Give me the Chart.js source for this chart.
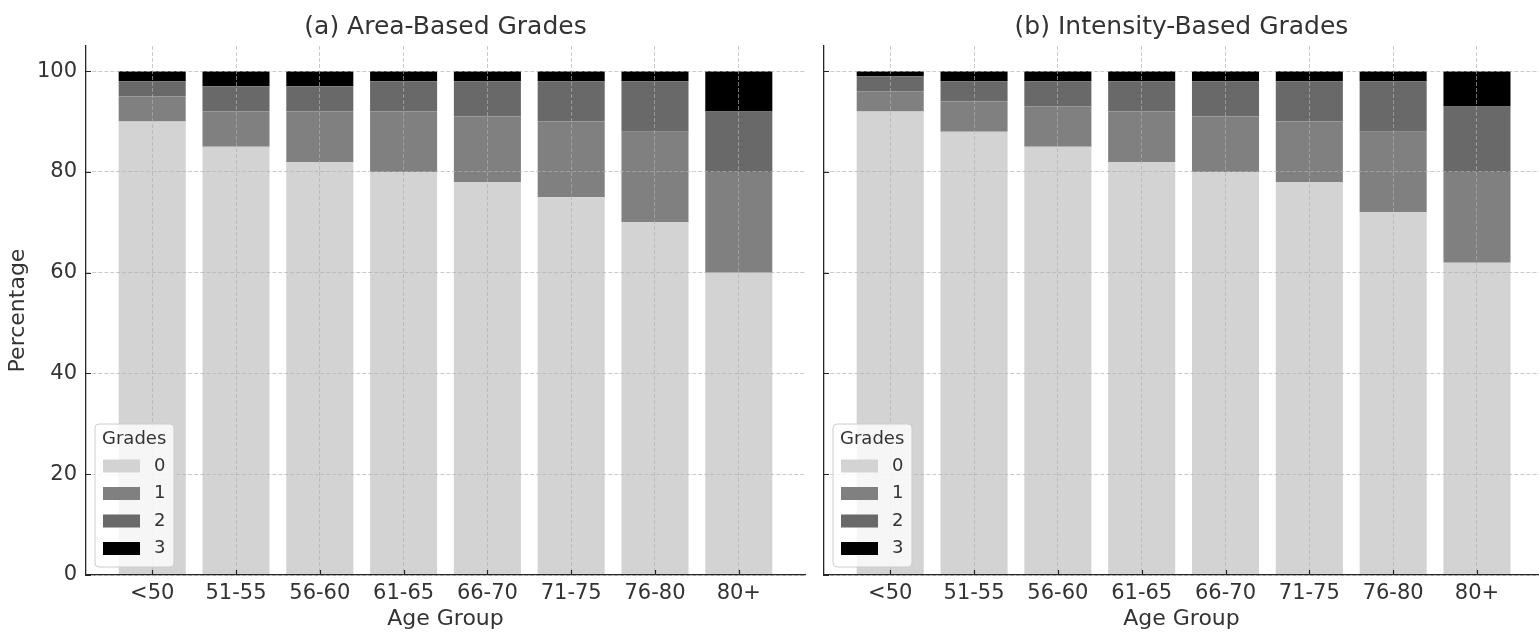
<!DOCTYPE html>
<html>
<head>
<meta charset="utf-8">
<script src="https://cdn.jsdelivr.net/npm/chart.js@4.4.1/dist/chart.umd.min.js"></script>
<style>
  body { margin: 0; background: #fff; }
  canvas { position: absolute; top: 0; }
</style>
</head>
<body>
<canvas id="graficaArea" width="812" height="633" style="left:0"></canvas>
<canvas id="graficaIntensidad" width="727" height="633" style="left:812px"></canvas>
<script>
// datos
const grupos = ['<50', '51-55', '56-60', '61-65', '66-70', '71-75', '76-80', '80+'];
const grados = ['0', '1', '2', '3'];
const colores = ['#d3d3d3', '#808080', '#696969', '#000000'];
const marcasY = [0, 20, 40, 60, 80, 100];

const area0 = [90, 85, 82, 80, 78, 75, 70, 60];
const area1 = [5, 7, 10, 12, 13, 15, 18, 20];
const area2 = [3, 5, 5, 6, 7, 8, 10, 12];
const area3 = [2, 3, 3, 2, 2, 2, 2, 8];

const inten0 = [92, 88, 85, 82, 80, 78, 72, 62];
const inten1 = [4, 6, 8, 10, 11, 12, 16, 18];
const inten2 = [3, 4, 5, 6, 7, 8, 10, 13];
const inten3 = [1, 2, 2, 2, 2, 2, 2, 7];

const fuente = '"DejaVu Sans", sans-serif';
const colorTexto = '#333333';
const colorEje = '#262626';

// marcas de los ejes hacia dentro, como en la figura original
const marcasDentro = {
    id: 'marcasDentro',
    afterDraw(chart) {
        const { ctx, chartArea, scales } = chart;
        ctx.save();
        ctx.strokeStyle = colorEje;
        ctx.lineWidth = 1.2;
        ctx.beginPath();
        scales.x.ticks.forEach(t => {
            const px = Math.round(scales.x.getPixelForValue(t.value)) + 0.5;
            ctx.moveTo(px, chartArea.bottom);
            ctx.lineTo(px, chartArea.bottom - 5);
        });
        scales.y.ticks.forEach(t => {
            const py = Math.round(scales.y.getPixelForValue(t.value)) + 0.5;
            ctx.moveTo(chartArea.left, py);
            ctx.lineTo(chartArea.left + 5, py);
        });
        ctx.stroke();
        ctx.restore();
    }
};

// leyenda dentro del area, abajo a la izquierda
const leyendaGrados = {
    id: 'leyendaGrados',
    afterDraw(chart) {
        const { ctx, chartArea } = chart;
        const w = 79, h = 143;
        const x = chartArea.left + 9;
        const y = chartArea.bottom - 8 - h;
        ctx.save();
        ctx.beginPath();
        ctx.roundRect(x, y, w, h, 4);
        ctx.fillStyle = 'rgba(255,255,255,0.8)';
        ctx.fill();
        ctx.strokeStyle = '#cccccc';
        ctx.lineWidth = 1;
        ctx.stroke();
        ctx.font = '18px ' + fuente;
        ctx.textBaseline = 'middle';
        ctx.fillStyle = colorTexto;
        ctx.fillText('Grades', x + 7, y + 15);
        chart.data.datasets.forEach((ds, i) => {
            const cy = y + 42 + i * 27.5;
            ctx.fillStyle = ds.backgroundColor;
            ctx.fillRect(x + 8, cy - 6.5, 37, 13);
            ctx.fillStyle = colorTexto;
            ctx.fillText(ds.label, x + 59, cy);
        });
        ctx.restore();
    }
};

function crearGrafica(id, titulo, series, opts) {
    const ctx = document.getElementById(id).getContext('2d');
    return new Chart(ctx, {
        type: 'bar',
        data: {
            datasets: series.map((valores, i) => ({
                label: grados[i],
                data: valores.map((v, j) => ({ x: j, y: v })),
                backgroundColor: colores[i],
                borderWidth: 0,
                barPercentage: 0.8,
                categoryPercentage: 1.0
            }))
        },
        options: {
            responsive: false,
            animation: false,
            layout: { padding: { right: opts.derecha } },
            plugins: {
                legend: { display: false },
                tooltip: { enabled: false },
                title: {
                    display: true,
                    text: titulo,
                    fullSize: false,
                    color: colorTexto,
                    font: { family: fuente, size: 25, weight: 'normal' },
                    padding: { top: 12, bottom: 4 }
                }
            },
            scales: {
                x: {
                    type: 'linear',
                    stacked: true,
                    min: -0.79,
                    max: opts.maxX,
                    offset: false,
                    afterBuildTicks: axis => { axis.ticks = grupos.map((g, i) => ({ value: i })); },
                    afterFit: axis => { axis.height = 58; },
                    ticks: {
                        callback: v => grupos[v],
                        color: colorTexto,
                        padding: 6,
                        autoSkip: false,
                        maxRotation: 0,
                        font: { family: fuente, size: 21 }
                    },
                    grid: {
                        offset: false,
                        drawTicks: false,
                        color: 'rgba(176,176,176,0.75)',
                        lineWidth: 0.9,
                        z: 1
                    },
                    border: { color: colorEje, width: 1.3, dash: [4, 2], z: 2 },
                    title: {
                        display: true,
                        text: 'Age Group',
                        color: colorTexto,
                        font: { family: fuente, size: 22 },
                        padding: { top: 0, bottom: 1 }
                    }
                },
                y: {
                    stacked: true,
                    min: 0,
                    max: 105,
                    afterBuildTicks: axis => { axis.ticks = marcasY.map(v => ({ value: v })); },
                    afterFit: axis => { axis.width = opts.anchoY; },
                    ticks: {
                        display: opts.etiquetasY,
                        color: colorTexto,
                        padding: 9,
                        font: { family: fuente, size: 21 }
                    },
                    grid: {
                        drawTicks: false,
                        color: 'rgba(176,176,176,0.75)',
                        lineWidth: 0.9,
                        z: 1
                    },
                    border: { color: colorEje, width: 1.3, dash: [4, 2], z: 2 },
                    title: {
                        display: opts.etiquetasY,
                        text: 'Percentage',
                        color: colorTexto,
                        font: { family: fuente, size: 22 },
                        padding: { top: 5, bottom: 0 }
                    }
                }
            }
        },
        plugins: [marcasDentro, leyendaGrados]
    });
}

crearGrafica('graficaArea', '(a) Area-Based Grades',
    [area0, area1, area2, area3],
    { maxX: 7.79, derecha: 7, anchoY: 86, etiquetasY: true });

crearGrafica('graficaIntensidad', '(b) Intensity-Based Grades',
    [inten0, inten1, inten2, inten3],
    { maxX: 7.74, derecha: 0, anchoY: 12, etiquetasY: false });
</script>
</body>
</html>
